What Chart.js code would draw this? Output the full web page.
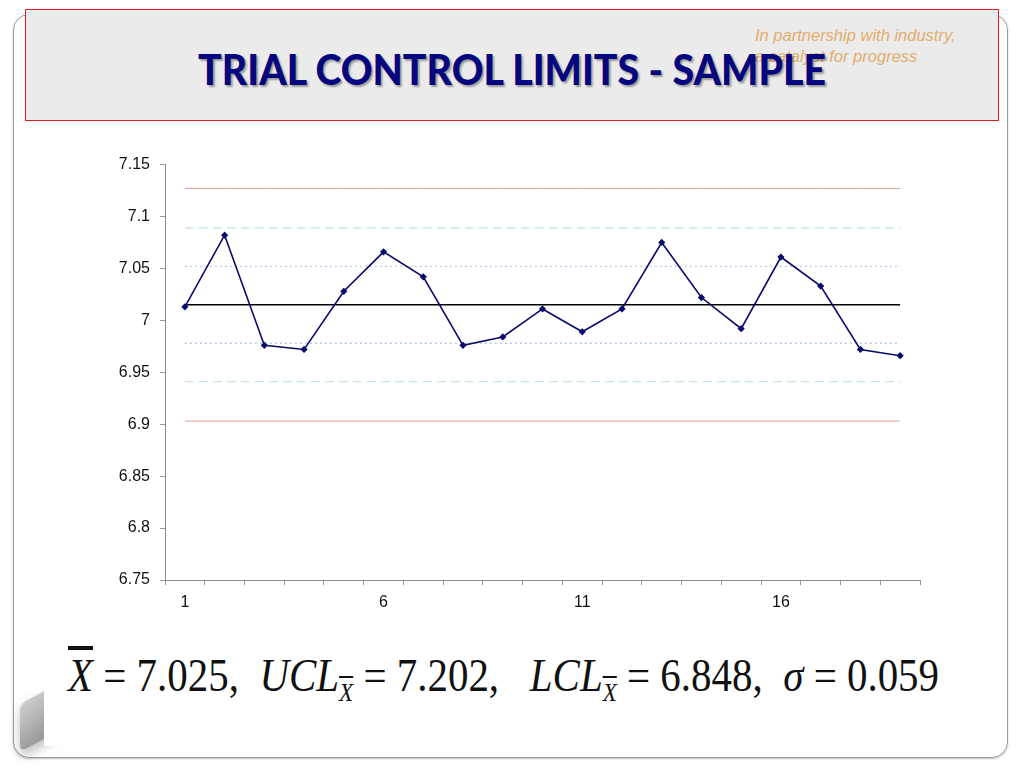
<!DOCTYPE html>
<html>
<head>
<meta charset="utf-8">
<script src="https://cdn.jsdelivr.net/npm/chart.js@4"></script>
<style>
  html, body { margin: 0; padding: 0; background: #fff; }
  body { width: 1024px; height: 768px; position: relative; overflow: hidden; font-family: "Liberation Sans", Arial, sans-serif; }
  #slide { position: absolute; left: 13px; top: 14px; width: 993px; height: 742px; border: 1px solid #9a9a9a; border-radius: 16px; box-shadow: 0 1px 2px rgba(0,0,0,0.25); }
  #header { position: absolute; left: 25px; top: 9px; width: 972px; height: 110px; background: #ebebeb; border: 1px solid #e02020; }
  #tag { position: absolute; left: 755px; top: 25px; color: #e3ad6e; font-style: italic; font-size: 16.5px; line-height: 21px; }
  #title { position: absolute; left: 0; width: 1024px; top: 44px; text-align: center; font-family: Lato, "Open Sans", sans-serif; font-weight: 900; font-size: 42px; color: #06067e; text-shadow: 2px 2px 2px rgba(0,0,0,0.35); transform: scaleX(0.935); transform-origin: 513px 0; }
  #shape { position: absolute; left: 20px; top: 688px; width: 60px; height: 48px; background: linear-gradient(160deg, #cfcfcf, #8a8a8a); transform: skewY(-28deg); border-radius: 6px; box-shadow: 0 6px 10px rgba(0,0,0,0.25); }
  #formulaBox { position: absolute; left: 44px; top: 636px; width: 958px; height: 110px; background: #fff; }
  #formula { position: absolute; left: 68px; top: 649px; font-family: "Liberation Serif", "DejaVu Serif", serif; font-size: 46px; color: #111; white-space: nowrap; transform: scaleX(0.89); transform-origin: 0 0; }
  #formula i { font-style: italic; }
  #formula sub { font-size: 26px; vertical-align: -10px; }
  .bar { text-decoration: overline; }
  #wrap { position: absolute; left: 100px; top: 145px; width: 840px; height: 475px; }
</style>
</head>
<body>
<div id="slide"></div>
<div id="header"></div>
<div id="tag">In partnership with industry,<br>a catalyst for progress</div>
<div id="title">TRIAL CONTROL LIMITS - SAMPLE</div>
<div id="shape"></div>
<div id="formulaBox"></div>
<div id="formula"><i class="bar">X</i> = 7.025,&nbsp; <i>UCL</i><sub><i class="bar">X</i></sub> = 7.202,&nbsp;&nbsp; <i>LCL</i><sub><i class="bar">X</i></sub> = 6.848,&nbsp; <i>σ</i> = 0.059</div>
<div id="wrap"><canvas id="chart"></canvas></div>
<script>
// SAMPLE NUMBERS 1..19
const samples = ['1','2','3','4','5','6','7','8','9','10','11','12','13','14','15','16','17','18','19'];
// SAMPLE MEANS
const means = [7.013, 7.082, 6.976, 6.972, 7.028, 7.066, 7.042, 6.976, 6.984, 7.011,
               6.989, 7.011, 7.075, 7.022, 6.992, 7.061, 7.033, 6.972, 6.966];
// LIMIT LINES (centre, 1/2/3 sigma)
const centerLine = 7.015;
const ucl = 7.127, lcl = 6.903;
const upper2 = 7.089, lower2 = 6.941;
const upper1 = 7.052, lower1 = 6.978;
const yTicks = [6.75, 6.8, 6.85, 6.9, 6.95, 7, 7.05, 7.1, 7.15];

const flat = v => samples.map(() => v);

function limitSet(value, color, dash, width) {
  return {
    data: flat(value),
    borderColor: color,
    borderWidth: width,
    borderDash: dash,
    pointRadius: 0,
    fill: false,
    tension: 0
  };
}

new Chart(document.getElementById('chart'), {
  type: 'line',
  data: {
    labels: samples,
    datasets: [
      {
        data: means,
        borderColor: '#0b0b6e',
        backgroundColor: '#0b0b6e',
        borderWidth: 1.6,
        pointStyle: 'rectRot',
        pointRadius: 2.5,
        tension: 0,
        order: 0
      },
      limitSet(centerLine, '#000000', [], 1.6),
      limitSet(ucl, '#dca595', [], 1),
      limitSet(lcl, '#dca595', [], 1),
      limitSet(upper2, '#c5e0ec', [9, 5], 1.2),
      limitSet(lower2, '#c5e0ec', [9, 5], 1.2),
      limitSet(upper1, '#b7cbe8', [2, 3], 1.4),
      limitSet(lower1, '#b7cbe8', [2, 3], 1.4)
    ]
  },
  options: {
    responsive: true,
    maintainAspectRatio: false,
    animation: false,
    layout: { padding: { top: 2, right: 20, left: 0, bottom: 0 } },
    plugins: { legend: { display: false }, tooltip: { enabled: false } },
    scales: {
      x: {
        offset: true,
        grid: { offset: true, drawOnChartArea: false, drawTicks: true, tickLength: 5, color: '#9a9a9a' },
        border: { color: '#8a8a8a' },
        ticks: {
          autoSkip: false,
          maxRotation: 0,
          padding: 8,
          color: '#111',
          font: { family: 'Liberation Sans', size: 16 },
          callback: function (val, idx) { return idx % 5 === 0 ? samples[idx] : ''; }
        },
        afterFit: s => { s.height = 40; }
      },
      y: {
        min: 6.75,
        max: 7.15,
        afterBuildTicks: s => { s.ticks = yTicks.map(v => ({ value: v })); },
        grid: { drawOnChartArea: false, drawTicks: true, tickLength: 5, color: '#9a9a9a' },
        border: { color: '#8a8a8a' },
        ticks: {
          padding: 10,
          color: '#111',
          font: { family: 'Liberation Sans', size: 16 },
          callback: v => String(+v.toFixed(2))
        },
        afterFit: s => { s.width = 65; }
      }
    }
  }
});
</script>
</body>
</html>
